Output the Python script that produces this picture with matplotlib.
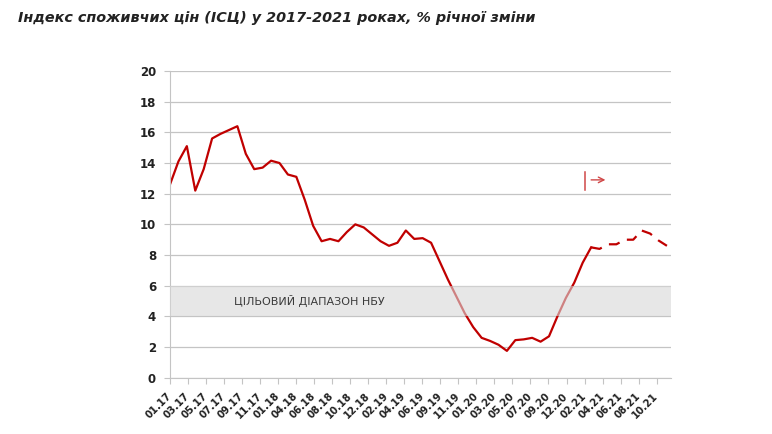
import numpy as np
import matplotlib.pyplot as plt
from matplotlib.transforms import ScaledTranslation

# monthly CPI, % y/y, 01.2017 - 12.2021 (last part is a forecast)
cpi = [12.6, 14.1, 15.1, 12.2, 13.6, 15.6, 15.9, 16.15, 16.4, 14.6, 13.6, 13.7,
       14.15, 14.0, 13.25, 13.1, 11.6, 9.9, 8.9, 9.05, 8.9, 9.5, 10.0, 9.8,
       9.35, 8.9, 8.6, 8.8, 9.6, 9.05, 9.1, 8.8, 7.6, 6.4, 5.3, 4.2,
       3.3, 2.6, 2.4, 2.15, 1.75, 2.45, 2.5, 2.6, 2.35, 2.7, 4.0, 5.2,
       6.2, 7.5, 8.5, 8.4, 8.7, 8.7, 9.0, 9.0, 9.6, 9.4, 8.95, 8.6]
forecast_from = 50  # index where the dashed part starts

tick_labels = ["01.17", "03.17", "05.17", "07.17", "09.17", "11.17", "01.18",
               "04.18", "06.18", "08.18", "10.18", "12.18", "02.19", "04.19",
               "06.19", "09.19", "11.19", "01.20", "03.20", "05.20", "07.20",
               "09.20", "12.20", "02.21", "04.21", "06.21", "08.21", "10.21"]

target_low, target_high = 4, 6
target_label = "ЦІЛЬОВИЙ ДІАПАЗОН НБУ"

red = "#c00000"
grid_c = "#c4c4c4"

fig = plt.figure(figsize=(7.72, 4.34), dpi=100)
ax = fig.add_axes([0.2202, 0.1297, 0.6486, 0.7067])

x = np.arange(len(cpi))
y = np.array(cpi)

ax.plot(x[:forecast_from + 1], y[:forecast_from + 1], color=red, lw=1.6,
        zorder=2, solid_joinstyle="round")
ax.plot(x[forecast_from:], y[forecast_from:], color=red, lw=1.6,
        dashes=(5.0, 3.6), zorder=2)

# target band on top, semi transparent, so the line looks faded inside it
ax.axhspan(target_low, target_high, color="#d8d8d8", alpha=0.6, lw=0, zorder=3)
ax.text(16.6, (target_low + target_high) / 2, target_label, ha="center",
        va="center", fontsize=8, color="#3a3a3a", zorder=4)

# forecast marker
ax.plot([49.3, 49.3], [12.25, 13.4], color="#d04848", lw=1.1, zorder=4)
ax.annotate("", xy=(51.7, 12.9), xytext=(50.0, 12.9),
            arrowprops=dict(arrowstyle="->", color="#d04848", lw=1.0,
                            shrinkA=0, shrinkB=0))

ax.set_ylim(0, 20)
ax.set_xlim(0, 59.45)
ax.set_yticks(np.arange(0, 21, 2))
ax.yaxis.grid(True, color=grid_c, lw=0.9, zorder=1)
ax.set_axisbelow(True)

step = 2.139
ax.set_xticks(np.arange(len(tick_labels)) * step + 0.02)
ax.set_xticklabels(tick_labels, rotation=45, ha="right", va="center",
                   rotation_mode="anchor", fontsize=7.2, fontweight="bold",
                   color="#222222")
off = ScaledTranslation(5 / 100, 0, fig.dpi_scale_trans)
for lab in ax.get_xticklabels():
    lab.set_transform(lab.get_transform() + off)

for lab in ax.get_yticklabels():
    lab.set_fontweight("bold")
ax.tick_params(axis="y", labelsize=8.5, colors="#222222", length=4,
               color=grid_c, pad=6)
ax.tick_params(axis="x", length=4, color=grid_c, pad=8)

for s in ["top", "right"]:
    ax.spines[s].set_visible(False)
ax.spines["left"].set_color(grid_c)
ax.spines["bottom"].set_color(grid_c)

fig.text(18 / 772, 1 - 18 / 434,
         "Індекс споживчих цін (ІСЦ) у 2017-2021 роках, % річної зміни",
         fontsize=10.4, fontweight="bold", fontstyle="italic", color="#222222",
         va="center", ha="left")

fig.savefig("out.png", dpi=100)
